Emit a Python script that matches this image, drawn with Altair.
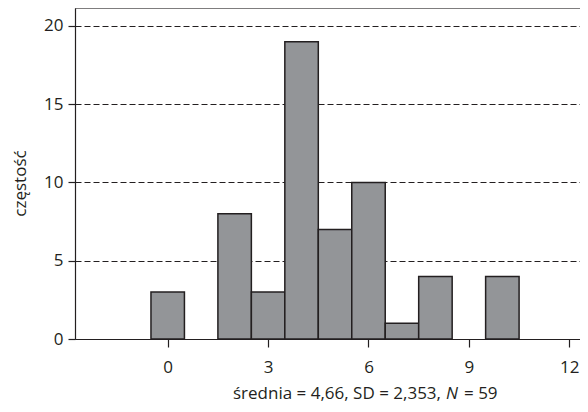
import altair as alt
import pandas as pd

# ---- data ----
values = [0, 2, 3, 4, 5, 6, 7, 8, 10]
counts = [3, 8, 3, 19, 7, 10, 1, 4, 4]
x_ticks = [0, 3, 6, 9, 12]
y_ticks = [0, 5, 10, 15, 20]
y_title = "częstość"
title_main = "średnia = 4,66, SD = 2,353,"
title_italic = "N"
title_tail = "= 59"

df = pd.DataFrame({"v": values, "c": counts})
df["lo"] = df["v"] - 0.5
df["hi"] = df["v"] + 0.5
df["base"] = 0

FONT = "Open Sans"
FS = 17
INK = "#231f20"
W, H = 505, 331

x_scale = alt.Scale(domain=[-2.77, 12.32], nice=False, zero=False)
y_scale = alt.Scale(domain=[0, 21.15], nice=False, zero=True)

bars = alt.Chart(df).mark_bar(
    fill="#939598", stroke=INK, strokeWidth=1.5
).encode(
    x=alt.X("lo:Q", scale=x_scale,
            axis=alt.Axis(values=x_ticks, title=None, grid=False, tickSize=8,
                          labelPadding=12, domainColor=INK, tickColor=INK,
                          labelFont=FONT, labelFontSize=FS, labelColor=INK,
                          domainWidth=1.2, tickWidth=1.2)),
    x2="hi:Q",
    y=alt.Y("c:Q", scale=y_scale,
            axis=alt.Axis(values=y_ticks, title=y_title, grid=True,
                          gridDash=[6, 3], gridColor=INK, gridWidth=1,
                          gridOpacity=1,
                          tickSize=7, labelPadding=5, domainColor=INK,
                          tickColor=INK, domainWidth=1.2, tickWidth=1.2,
                          labelFont=FONT, labelFontSize=FS, labelColor=INK,
                          titleFont=FONT, titleFontSize=FS, titleColor=INK,
                          titleFontWeight="normal", titleAngle=270,
                          titleX=-50, titleY=175, titleAlign="center",
                          titleBaseline="alphabetic")),
    y2="base:Q",
)

top_line = alt.Chart(pd.DataFrame({"a": [0]})).mark_rule(
    color=INK, strokeWidth=1.2
).encode(x=alt.value(0), x2=alt.value(W), y=alt.value(0))

t1 = alt.Chart(pd.DataFrame({"t": [title_main]})).mark_text(
    font=FONT, fontSize=FS, color=INK, align="right", baseline="alphabetic"
).encode(text="t:N", x=alt.value(366), y=alt.value(391))

t2 = alt.Chart(pd.DataFrame({"t": [title_italic]})).mark_text(
    font=FONT, fontSize=FS, color=INK, align="left", baseline="alphabetic",
    fontStyle="italic"
).encode(text="t:N", x=alt.value(371), y=alt.value(391))

t3 = alt.Chart(pd.DataFrame({"t": [title_tail]})).mark_text(
    font=FONT, fontSize=FS, color=INK, align="left", baseline="alphabetic"
).encode(text="t:N", x=alt.value(389), y=alt.value(391))

chart = alt.layer(bars, top_line, t1, t2, t3).properties(
    width=W, height=H,
    autosize=alt.AutoSizeParams(type="none"),
    padding={"left": 67, "top": 0, "right": 0, "bottom": 70},
).configure_view(stroke=None).configure(background="white")

chart.save("out.html", embed_options={"renderer": "svg", "actions": False})
